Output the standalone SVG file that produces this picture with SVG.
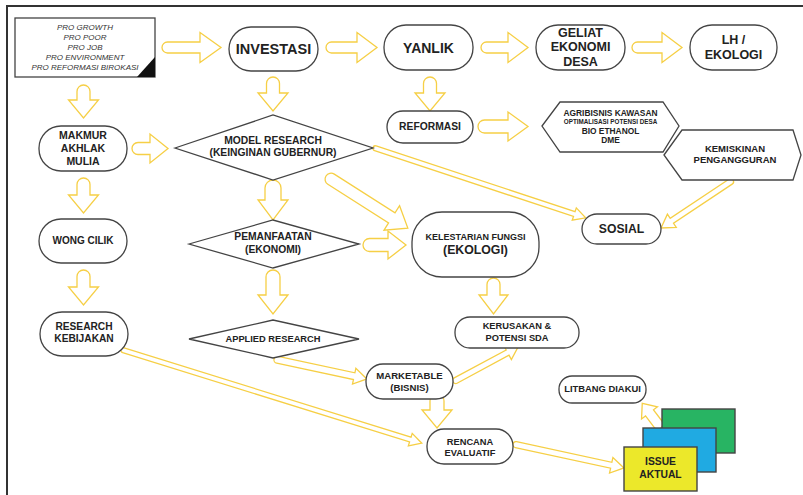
<svg xmlns="http://www.w3.org/2000/svg" width="803" height="495" viewBox="0 0 803 495">
<style>
.frame{fill:none;stroke:#333;stroke-width:2}
.arr{fill:#fff;stroke:#f6cf45;stroke-width:1.3;stroke-linejoin:miter}
.nd{fill:#fff;stroke:#444;stroke-width:1.3}
.t{font-family:"Liberation Sans",Arial,sans-serif;font-weight:bold;fill:#222;text-anchor:middle}
.it{font-family:"Liberation Sans",Arial,sans-serif;font-style:italic;fill:#333;text-anchor:middle;font-size:8px}
</style>
<rect width="803" height="495" fill="#fff"/>
<path class="frame" d="M7,495 V6 H803"/>
<g id="connectors">
<path class="arr" transform="translate(162,47.5)" d="M5.5,-5.5 H38 V-15 L59,0 L38,15 V5.5 H5.5 A5.5,5.5 0 0 1 5.5,-5.5 Z"/>
<path class="arr" transform="translate(326,47.5)" d="M5.5,-5.5 H31 V-15 L51,0 L31,15 V5.5 H5.5 A5.5,5.5 0 0 1 5.5,-5.5 Z"/>
<path class="arr" transform="translate(481,47.5)" d="M5.5,-5.5 H27 V-15 L47,0 L27,15 V5.5 H5.5 A5.5,5.5 0 0 1 5.5,-5.5 Z"/>
<path class="arr" transform="translate(632,47.5)" d="M5.5,-5.5 H30 V-15 L50,0 L30,15 V5.5 H5.5 A5.5,5.5 0 0 1 5.5,-5.5 Z"/>
<path class="arr" transform="translate(83.5,85) rotate(90)" d="M6.5,-6.5 H15 V-15 L33,0 L15,15 V6.5 H6.5 A6.5,6.5 0 0 1 6.5,-6.5 Z"/>
<path class="arr" transform="translate(273,77) rotate(90)" d="M6.5,-6.5 H16 V-15 L34,0 L16,15 V6.5 H6.5 A6.5,6.5 0 0 1 6.5,-6.5 Z"/>
<path class="arr" transform="translate(430,77) rotate(90)" d="M6.5,-6.5 H16 V-15 L34,0 L16,15 V6.5 H6.5 A6.5,6.5 0 0 1 6.5,-6.5 Z"/>
<path class="arr" transform="translate(132,148.5)" d="M6,-6 H18 V-14.5 L36,0 L18,14.5 V6 H6 A6,6 0 0 1 6,-6 Z"/>
<path class="arr" transform="translate(83.5,178) rotate(90)" d="M6.5,-6.5 H17 V-15 L35,0 L17,15 V6.5 H6.5 A6.5,6.5 0 0 1 6.5,-6.5 Z"/>
<path class="arr" transform="translate(273,180) rotate(90)" d="M8,-8 H20 V-15 L40,0 L20,15 V8 H8 A8,8 0 0 1 8,-8 Z"/>
<path class="arr" transform="translate(83.5,270) rotate(90)" d="M6.5,-6.5 H17 V-15 L35,0 L17,15 V6.5 H6.5 A6.5,6.5 0 0 1 6.5,-6.5 Z"/>
<path class="arr" transform="translate(273,270) rotate(90)" d="M7,-7 H25 V-15 L44,0 L25,15 V7 H7 A7,7 0 0 1 7,-7 Z"/>
<path class="arr" transform="translate(363,245)" d="M6.5,-6.5 H25 V-14 L43,0 L25,14 V6.5 H6.5 A6.5,6.5 0 0 1 6.5,-6.5 Z"/>
<path class="arr" transform="translate(326,176) rotate(32.5)" d="M6,-6 H78 V-14.5 L97,0 L78,14.5 V6 H6 A6,6 0 0 1 6,-6 Z"/>
<path class="arr" transform="translate(373,147.5) rotate(18.3)" d="M2.5,-2.5 H212 V-6.5 L224,0 L212,6.5 V2.5 H2.5 A2.5,2.5 0 0 1 2.5,-2.5 Z"/>
<path class="arr" transform="translate(733,180) rotate(146.3)" d="M3,-3 H73.5 V-8 L86.5,0 L73.5,8 V3 H3 A3,3 0 0 1 3,-3 Z"/>
<path class="arr" transform="translate(478,126.5)" d="M6.5,-6.5 H30 V-14.5 L50,0 L30,14.5 V6.5 H6.5 A6.5,6.5 0 0 1 6.5,-6.5 Z"/>
<path class="arr" transform="translate(274,359) rotate(12.1)" d="M3.5,-3.5 H82 V-8 L95,0 L82,8 V3.5 H3.5 A3.5,3.5 0 0 1 3.5,-3.5 Z"/>
<path class="arr" transform="translate(121,349.5) rotate(17.3)" d="M2.5,-2.5 H303 V-6.5 L315,0 L303,6.5 V2.5 H2.5 A2.5,2.5 0 0 1 2.5,-2.5 Z"/>
<path class="arr" transform="translate(453,382) rotate(-28.3)" d="M3,-3 H62 V-8 L74,0 L62,8 V3 H3 A3,3 0 0 1 3,-3 Z"/>
<path class="arr" transform="translate(437,394) rotate(90)" d="M7,-7 H16 V-15 L34,0 L16,15 V7 H7 A7,7 0 0 1 7,-7 Z"/>
<path class="arr" transform="translate(493.5,278) rotate(90)" d="M6.5,-6.5 H17 V-14.5 L36,0 L17,14.5 V6.5 H6.5 A6.5,6.5 0 0 1 6.5,-6.5 Z"/>
<path class="arr" transform="translate(513,444) rotate(12.2)" d="M3,-3 H100.5 V-8 L113.5,0 L100.5,8 V3 H3 A3,3 0 0 1 3,-3 Z"/>
<path class="arr" transform="translate(661,428) rotate(-127.2)" d="M5,-5 H19 V-10 L31,0 L19,10 V5 H5 A5,5 0 0 1 5,-5 Z"/>
</g>
<g id="pro">
<rect class="nd" x="15" y="18" width="140" height="59"/>
<polygon points="137,77 155,77 155,57" fill="#111"/>
<text class="it" x="85" y="29.5">PRO GROWTH</text>
<text class="it" x="85" y="39.5">PRO POOR</text>
<text class="it" x="85" y="49.5">PRO JOB</text>
<text class="it" x="85" y="59.5">PRO ENVIRONMENT</text>
<text class="it" x="85" y="69.5">PRO REFORMASI BIROKASI</text>
</g>
<g id="investasi"><rect class="nd" x="229" y="27" width="89" height="44" rx="22"/><text class="t" x="273.5" y="54" font-size="14.5">INVESTASI</text></g>
<g id="yanlik"><rect class="nd" x="384" y="25" width="89" height="45" rx="22"/><text class="t" x="428.5" y="52.5" font-size="14">YANLIK</text></g>
<g id="geliat"><rect class="nd" x="536" y="25" width="89" height="45" rx="22"/><text class="t" x="580.5" font-size="12.5"><tspan x="580.5" y="36.5">GELIAT</tspan><tspan x="580.5" y="51">EKONOMI</tspan><tspan x="580.5" y="66">DESA</tspan></text></g>
<g id="lh"><rect class="nd" x="690" y="25" width="87" height="45" rx="22"/><text class="t" font-size="12.5"><tspan x="733.5" y="44">LH /</tspan><tspan x="733.5" y="59">EKOLOGI</tspan></text></g>
<g id="makmur"><rect class="nd" x="39" y="126" width="88" height="45" rx="22"/><text class="t" font-size="10.5"><tspan x="83" y="138.7">MAKMUR</tspan><tspan x="83" y="152">AKHLAK</tspan><tspan x="83" y="164.7">MULIA</tspan></text></g>
<g id="model"><polygon class="nd" points="175,148 273,115 373,148 273,180"/><text class="t" font-size="10.3"><tspan x="273" y="143.6">MODEL RESEARCH</tspan><tspan x="273" y="156">(KEINGINAN GUBERNUR)</tspan></text></g>
<g id="wongcilik"><rect class="nd" x="39" y="219" width="88" height="44" rx="22"/><text class="t" x="83" y="243.5" font-size="10">WONG CILIK</text></g>
<g id="pemanfaatan"><polygon class="nd" points="189,244 273,220 359,244 273,268"/><text class="t" font-size="10.3"><tspan x="273" y="240.3">PEMANFAATAN</tspan><tspan x="273" y="253">(EKONOMI)</tspan></text></g>
<g id="research"><rect class="nd" x="40" y="312" width="88" height="44" rx="22"/><text class="t" font-size="10.2"><tspan x="84" y="329.6">RESEARCH</tspan><tspan x="84" y="342">KEBIJAKAN</tspan></text></g>
<g id="applied"><polygon class="nd" points="189,339 273,320 359,339 273,358"/><text class="t" x="273" y="342" font-size="9.3">APPLIED RESEARCH</text></g>
<g id="reformasi"><rect class="nd" x="387" y="111" width="86" height="32" rx="16"/><text class="t" x="430" y="129.6" font-size="10.3">REFORMASI</text></g>
<g id="agribisnis"><polygon class="nd" points="542,126 560,102 663,102 679,126 663,152 560,152"/><text class="t" x="610.5" y="115.6" font-size="8.4">AGRIBISNIS KAWASAN</text><text class="t" x="610.5" y="123.9" font-size="6.3">OPTIMALISASI POTENSI DESA</text><text class="t" font-size="8.4"><tspan x="610.5" y="133.6">BIO ETHANOL</tspan><tspan x="610.5" y="143">DME</tspan></text></g>
<g id="kemiskinan"><polygon class="nd" points="664,155 682,130 793,130 801,155 793,180 682,180"/><text class="t" font-size="9.5"><tspan x="735" y="151.6">KEMISKINAN</tspan><tspan x="735" y="162.6">PENGANGGURAN</tspan></text></g>
<g id="sosial"><rect class="nd" x="582" y="214" width="79" height="30" rx="15"/><text class="t" x="621.5" y="233" font-size="12.2">SOSIAL</text></g>
<g id="kelestarian"><rect class="nd" x="412" y="212" width="127" height="65" rx="30"/><text class="t" x="475.5" y="239.8" font-size="9">KELESTARIAN FUNGSI</text><text class="t" x="475.5" y="254.3" font-size="12.3">(EKOLOGI)</text></g>
<g id="kerusakan"><rect class="nd" x="455" y="317" width="124" height="31" rx="15"/><text class="t" font-size="9.3"><tspan x="517" y="329.3">KERUSAKAN &amp;</tspan><tspan x="517" y="340.6">POTENSI SDA</tspan></text></g>
<g id="marketable"><rect class="nd" x="366" y="364" width="87" height="35" rx="17"/><text class="t" font-size="9.6"><tspan x="409.5" y="378.6">MARKETABLE</tspan><tspan x="409.5" y="391">(BISNIS)</tspan></text></g>
<g id="rencana"><rect class="nd" x="427" y="429" width="86" height="35" rx="17"/><text class="t" font-size="9.3"><tspan x="470" y="444.5">RENCANA</tspan><tspan x="470" y="455.5">EVALUATIF</tspan></text></g>
<g id="litbang"><rect class="nd" x="559" y="376" width="87" height="27" rx="13"/><text class="t" x="602.5" y="392.3" font-size="9.4">LITBANG DIAKUI</text></g>
<g id="issue">
<rect x="662" y="409" width="73" height="44" fill="#28b463" stroke="#444" stroke-width="1.4"/>
<rect x="643" y="428" width="73" height="44" fill="#20aae2" stroke="#444" stroke-width="1.4"/>
<rect x="624" y="447" width="73" height="44" fill="#ece82a" stroke="#444" stroke-width="1.4"/>
<text class="t" font-size="10.3"><tspan x="660.5" y="465.3">ISSUE</tspan><tspan x="660.5" y="477.5">AKTUAL</tspan></text>
</g>
</svg>
